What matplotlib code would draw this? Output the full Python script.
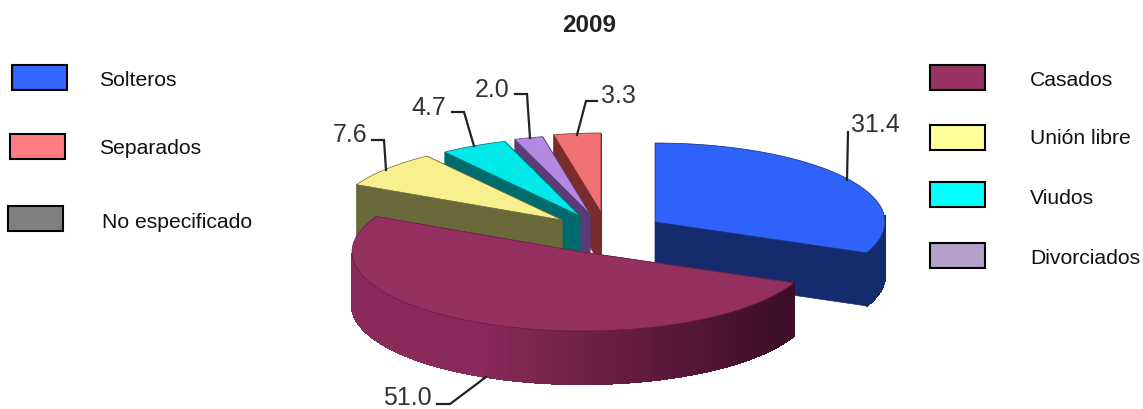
import numpy as np
import matplotlib
matplotlib.use('Agg')
import matplotlib.pyplot as plt
from matplotlib.colors import to_rgb
from matplotlib.patches import Polygon, Rectangle

plt.rcParams['font.family'] = ['Liberation Sans', 'DejaVu Sans']

# data, in pie order (clockwise from 12 o'clock)
slices = ['Solteros', 'Casados', 'Unión libre', 'Viudos', 'Divorciados', 'Separados']
values = [31.4, 51.0, 7.6, 4.7, 2.0, 3.3]
title = '2009'

# legend order as in the picture
legend_left = ['Solteros', 'Separados', 'No especificado']
legend_right = ['Casados', 'Unión libre', 'Viudos', 'Divorciados']

# styles
top_colors = ['#2F62FB', '#93305F', '#F8F08C', '#00E8E8', '#B388E0', '#F07272']
side_colors = ['#152B6E', '#8A2A5A', '#69693B', '#006B6B', '#5B3C78', '#7A2C2C']
legend_colors = {'Solteros': '#3366FF', 'Separados': '#FF7C80', 'No especificado': '#808080',
                 'Casados': '#993366', 'Unión libre': '#FFFF99', 'Viudos': '#00FFFF',
                 'Divorciados': '#B1A0C7'}

# pixel layout: slice centres after exploding, ellipse radii, thickness
centres = [(655, 222), (582, 252), (562, 220), (580, 216), (590, 214), (601, 212)]
rx, ry, depth = 230, 79, 53
draw_order = [5, 4, 3, 2, 0, 1]

legend_left_pos = [(12, 65, 99, 80), (10, 134, 99, 149), (8, 206, 102, 223)]
legend_right_pos = [(930, 65, 1030, 80), (930, 125, 1030, 139), (930, 182, 1030, 198), (930, 243, 1030, 258)]

label_pos = [(851, 125), (383, 398), (333, 135), (411, 108), (475, 90), (601, 96)]
leaders = [
    [(847, 180), (848, 132)],
    [(486, 377), (450, 404), (437, 404)],
    [(372, 140), (384, 140), (386, 170)],
    [(452, 112), (464, 112), (474, 146)],
    [(515, 94), (527, 94), (530, 138)],
    [(597, 101), (586, 101), (577, 135)],
]


def rim(centre, angles):
    a = np.radians(angles)
    return np.column_stack([centre[0] + rx * np.sin(a), centre[1] - ry * np.cos(a)])


def shade(x):
    # side of the big slice gets darker to the right
    t = np.clip((x - 480) / 300, 0, 1)
    c0, c1 = np.array(to_rgb('#8A2A5A')), np.array(to_rgb('#3E0E28'))
    return tuple(c0 + (c1 - c0) * t)


fig = plt.figure(figsize=(11.43, 4.09), dpi=100)
ax = fig.add_axes([0, 0, 1, 1])
ax.set_xlim(0, 1143)
ax.set_ylim(409, 0)
ax.axis('off')

edges = np.concatenate([[0], np.cumsum(values)]) / sum(values) * 360

for i in draw_order:
    c = centres[i]
    start, end = edges[i], edges[i + 1]
    angles = np.linspace(start, end, 120)
    pts = rim(c, angles)

    # the two cut faces, far one first
    for ang in (end, start) if start > 180 else (start, end):
        p = rim(c, [ang])[0]
        face = [c, p, (p[0], p[1] + depth), (c[0], c[1] + depth)]
        ax.add_patch(Polygon(face, fc=side_colors[i], ec=side_colors[i], lw=0.5))

    # outer wall, only the front half of the rim shows
    front = (angles >= 85) & (angles <= 270)
    fp = pts[front]
    for k in range(len(fp) - 1):
        a, b = fp[k], fp[k + 1]
        col = shade(a[0]) if i == 1 else side_colors[i]
        ax.add_patch(Polygon([a, b, (b[0], b[1] + depth), (a[0], a[1] + depth)], fc=col, ec=col, lw=1.0,
                             antialiased=False))

    ax.add_patch(Polygon(np.vstack([[c], pts]), fc=top_colors[i], ec=side_colors[i] if i != 1 else '#6A1A44',
                         lw=0.5, zorder=3 if i == 1 else 2))

# labels and leader lines
for i, v in enumerate(values):
    ax.text(label_pos[i][0], label_pos[i][1], f'{v:.1f}', fontsize=18, color='#333333', va='center', ha='left', zorder=5)
    xs, ys = zip(*leaders[i])
    ax.plot(xs, ys, color='#222222', lw=1.6, zorder=4, solid_joinstyle='miter')

ax.text(589, 25, title, fontsize=17.5, fontweight='bold', color='#222222', ha='center', va='center')

for names, positions in ((legend_left, legend_left_pos), (legend_right, legend_right_pos)):
    for name, (rx0, ry0, tx, ty) in zip(names, positions):
        ax.add_patch(Rectangle((rx0, ry0), 55, 25, fc=legend_colors[name], ec='black', lw=1.5))
        ax.text(tx, ty, name, fontsize=15.2, color='#111111', va='center', ha='left')

fig.savefig('out.png', dpi=100)
